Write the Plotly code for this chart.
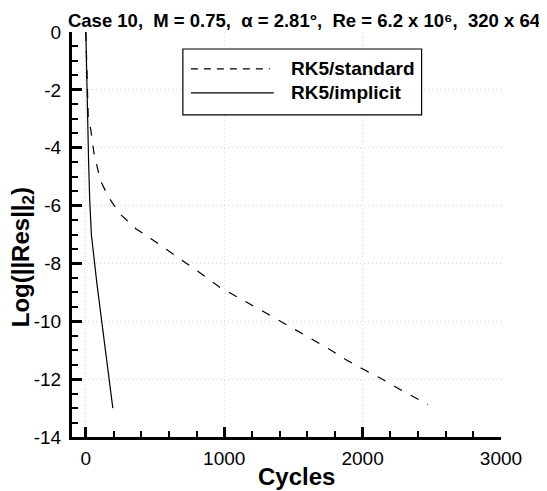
import plotly.graph_objects as go

# ---- data ----
series_names = ["RK5/standard", "RK5/implicit"]

std_cycles = [0, 10, 17, 35, 59, 105, 164, 245, 362, 455, 600, 817, 968, 1096, 1224, 1352, 1772, 1877, 2005, 2133, 2261, 2471]
std_logres = [0, -1.8, -2.9, -3.35, -4.2, -5.13, -5.71, -6.28, -6.8, -7.09, -7.57, -8.3, -8.82, -9.16, -9.5, -9.85, -11.0, -11.32, -11.66, -11.98, -12.33, -12.88]

imp_cycles = [0, 5, 12, 20, 28, 40, 80, 135, 195]
imp_logres = [0, -1.5, -3.0, -4.5, -5.8, -7.0, -8.7, -10.8, -13.0]

x_tickvals = [0, 1000, 2000, 3000]
x_ticktext = ["0", "1000", "2000", "3000"]
y_tickvals = [0, -2, -4, -6, -8, -10, -12, -14]
y_ticktext = ["0", "-2", "-4", "-6", "-8", "-10", "-12", "-14"]

title_text = ("Case 10,\u00a0\u00a0M = 0.75,\u00a0\u00a0\u03b1 = 2.81\u00b0,\u00a0\u00a0"
              "Re = 6.2 x 10\u2076,\u00a0\u00a0320 x 64")

FONT = "Liberation Sans, Arial, sans-serif"
W, H = 547, 491

# plot-area pixel frame (used only to place hand-drawn legend / titles)
L, R, T, B = 64, 493.5, 24, 429.5
def px(x):
    return (x - L) / (R - L)
def py(y):
    return 1 - (y - T) / (B - T)

fig = go.Figure()
fig.add_trace(go.Scatter(x=std_cycles, y=std_logres, mode="lines", name=series_names[0],
                         line=dict(color="black", width=1.2, dash="9px,10px"), showlegend=False))
fig.add_trace(go.Scatter(x=imp_cycles, y=imp_logres, mode="lines", name=series_names[1],
                         line=dict(color="black", width=1.2), showlegend=False))

axis_common = dict(
    showline=True, linecolor="black", linewidth=3,
    ticks="inside", ticklen=10, tickwidth=2.5, tickcolor="black",
    showgrid=True, gridcolor="#d8d8d8", gridwidth=1, griddash="1px,3px",
    zeroline=False, mirror=False, layer="above traces",
    tickfont=dict(family=FONT, size=19, color="black"),
)

fig.update_layout(
    width=W, height=H,
    margin=dict(l=L, r=W - R, t=T, b=H - B),
    paper_bgcolor="white", plot_bgcolor="white",
    xaxis=dict(range=[-100, 3000], tickmode="array", tickvals=x_tickvals, ticktext=x_ticktext,
               minor=dict(ticks="inside", ticklen=6, tickwidth=1.5, tickcolor="black", dtick=200, tick0=0, showgrid=False),
               ticklabelstandoff=2,
               **axis_common),
    yaxis=dict(range=[-14, 0], tickmode="array", tickvals=y_tickvals, ticktext=y_ticktext,
               minor=dict(ticks="inside", ticklen=6, tickwidth=1.5, tickcolor="black", dtick=0.5, tick0=0, showgrid=False),
               ticklabelstandoff=4,
               **axis_common),
    title=dict(text=title_text, x=296/W, xanchor="center", xref="container",
               y=1 - 12.5/H, yanchor="middle", yref="container", pad=dict(t=0, b=0, l=0, r=0),
               font=dict(family=FONT, size=18.5, color="black", weight="bold")),
    showlegend=False,
)

# axis titles
fig.add_annotation(text="Cycles", xref="paper", yref="paper", x=px(289), y=py(469),
                   xanchor="center", yanchor="middle", showarrow=False,
                   font=dict(family=FONT, size=24, color="black", weight="bold"))
fig.add_annotation(text="Log(||Res||<sub>2</sub>)", xref="paper", yref="paper",
                   x=px(14.5), y=py(250), textangle=-90,
                   xanchor="center", yanchor="middle", showarrow=False,
                   font=dict(family=FONT, size=24, color="black", weight="bold"))

# legend box (drawn by hand to match the long line samples of the reference)
row_y = [61, 85]
fig.add_shape(type="rect", xref="paper", yref="paper", x0=px(175), x1=px(414), y0=py(107), y1=py(41),
              line=dict(color="black", width=1.2), fillcolor="white", layer="above")
fig.add_shape(type="line", xref="paper", yref="paper", x0=px(183), x1=px(262), y0=py(row_y[0]), y1=py(row_y[0]),
              line=dict(color="black", width=1.2, dash="7px,6px"))
fig.add_shape(type="line", xref="paper", yref="paper", x0=px(183), x1=px(266), y0=py(row_y[1]), y1=py(row_y[1]),
              line=dict(color="black", width=1.2))
for name, yy in zip(series_names, row_y):
    fig.add_annotation(text=name, xref="paper", yref="paper", x=px(281), y=py(yy),
                       xanchor="left", yanchor="middle", showarrow=False,
                       font=dict(family=FONT, size=19, color="black", weight="bold"))

fig.write_html("out.html")
